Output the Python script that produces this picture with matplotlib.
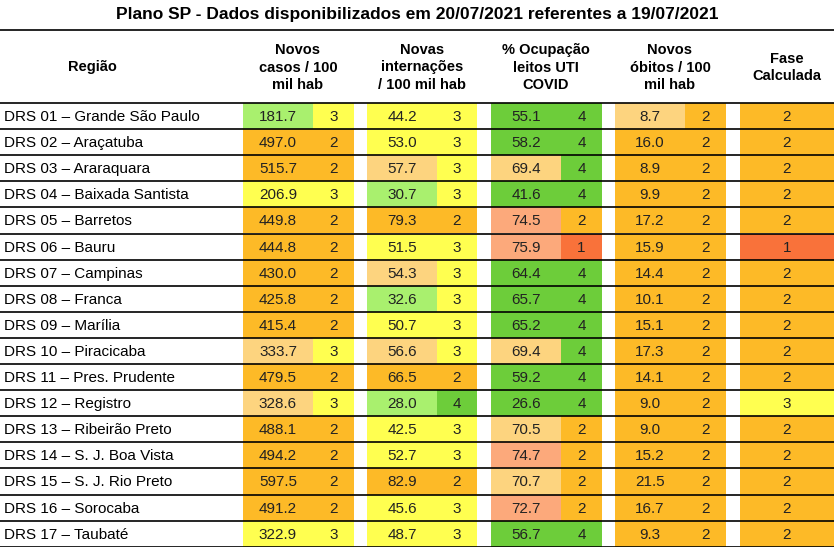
import matplotlib
matplotlib.use("Agg")
import matplotlib.pyplot as plt
from matplotlib.patches import Rectangle

plt.rcParams['font.family'] = ['Liberation Sans', 'DejaVu Sans']

title = "Plano SP - Dados disponibilizados em 20/07/2021 referentes a 19/07/2021"
headers = ["Região", "Novos\ncasos / 100\nmil hab", "Novas\ninternações\n/ 100 mil hab",
           "% Ocupação\nleitos UTI\nCOVID", "Novos\nóbitos / 100\nmil hab", "Fase\nCalculada"]
regions = ["DRS 01 – Grande São Paulo", "DRS 02 – Araçatuba", "DRS 03 – Araraquara",
           "DRS 04 – Baixada Santista", "DRS 05 – Barretos", "DRS 06 – Bauru",
           "DRS 07 – Campinas", "DRS 08 – Franca", "DRS 09 – Marília", "DRS 10 – Piracicaba",
           "DRS 11 – Pres. Prudente", "DRS 12 – Registro", "DRS 13 – Ribeirão Preto",
           "DRS 14 – S. J. Boa Vista", "DRS 15 – S. J. Rio Preto", "DRS 16 – Sorocaba",
           "DRS 17 – Taubaté"]
casos = [181.7, 497.0, 515.7, 206.9, 449.8, 444.8, 430.0, 425.8, 415.4, 333.7, 479.5, 328.6, 488.1, 494.2, 597.5, 491.2, 322.9]
casos_fase = [3, 2, 2, 3, 2, 2, 2, 2, 2, 3, 2, 3, 2, 2, 2, 2, 3]
intern = [44.2, 53.0, 57.7, 30.7, 79.3, 51.5, 54.3, 32.6, 50.7, 56.6, 66.5, 28.0, 42.5, 52.7, 82.9, 45.6, 48.7]
intern_fase = [3, 3, 3, 3, 2, 3, 3, 3, 3, 3, 2, 4, 3, 3, 2, 3, 3]
uti = [55.1, 58.2, 69.4, 41.6, 74.5, 75.9, 64.4, 65.7, 65.2, 69.4, 59.2, 26.6, 70.5, 74.7, 70.7, 72.7, 56.7]
uti_fase = [4, 4, 4, 4, 2, 1, 4, 4, 4, 4, 4, 4, 2, 2, 2, 2, 4]
obitos = [8.7, 16.0, 8.9, 9.9, 17.2, 15.9, 14.4, 10.1, 15.1, 17.3, 14.1, 9.0, 9.0, 15.2, 21.5, 16.7, 9.3]
obitos_fase = [2] * 17
fase = [2, 2, 2, 2, 2, 1, 2, 2, 2, 2, 2, 3, 2, 2, 2, 2, 2]
# value-cell shading: p = same as phase, g = light green, o = light orange, s = salmon
casos_tint = "gppppppppopoppppp"
intern_tint = "ppogppogpopgppppp"
uti_tint = "ppopsspppoppososp"
obitos_tint = "o" + "p" * 16

phase_col = {1: "#F9723A", 2: "#FDBA27", 3: "#FFFF50", 4: "#6DCD3A"}
tint_col = {"g": "#A9F06E", "o": "#FDD47F", "s": "#FCA97B"}

fig = plt.figure(figsize=(8.34, 5.47), dpi=100)
ax = fig.add_axes([0, 0, 1, 1])
ax.set_xlim(0, 834)
ax.set_ylim(547, 0)
ax.axis("off")

ax.text(417, 15, title, ha="center", va="center", fontsize=12.5, fontweight="bold")

top, head_bot, row_h = 30, 103, 26.1
col_x = [(243, 313, 354), (367, 437, 477), (491, 561, 602), (615, 685, 726)]
hx = [92, 298, 422, 546, 670, 787]
for x, h in zip(hx, headers):
    ax.text(x, (top + head_bot) / 2 + 1, h, ha="center", va="center", fontsize=10.5,
            fontweight="bold", linespacing=1.3)

cols = [(casos, casos_fase, casos_tint), (intern, intern_fase, intern_tint),
        (uti, uti_fase, uti_tint), (obitos, obitos_fase, obitos_tint)]
for i, reg in enumerate(regions):
    y0 = head_bot + i * row_h
    yc = y0 + row_h / 2 + 1
    ax.text(4, yc, reg, ha="left", va="center", fontsize=11)
    for (x0, x1, x2), (vals, fases, tints) in zip(col_x, cols):
        f = fases[i]
        vc = phase_col[f] if tints[i] == "p" else tint_col[tints[i]]
        ax.add_patch(Rectangle((x0, y0), x1 - x0, row_h, color=vc, lw=0))
        ax.add_patch(Rectangle((x1, y0), x2 - x1, row_h, color=phase_col[f], lw=0))
        ax.text((x0 + x1) / 2, yc, f"{vals[i]:.1f}", ha="center", va="center", fontsize=11, color="#222")
        ax.text((x1 + x2) / 2, yc, str(f), ha="center", va="center", fontsize=11, color="#222")
    ax.add_patch(Rectangle((740, y0), 94, row_h, color=phase_col[fase[i]], lw=0))
    ax.text(787, yc, str(fase[i]), ha="center", va="center", fontsize=11, color="#222")

for k in range(len(regions) + 1):
    ax.axhline(head_bot + k * row_h, color="black", lw=1.2)
ax.axhline(top, color="black", lw=1.2)

fig.savefig("out.png", dpi=100)
